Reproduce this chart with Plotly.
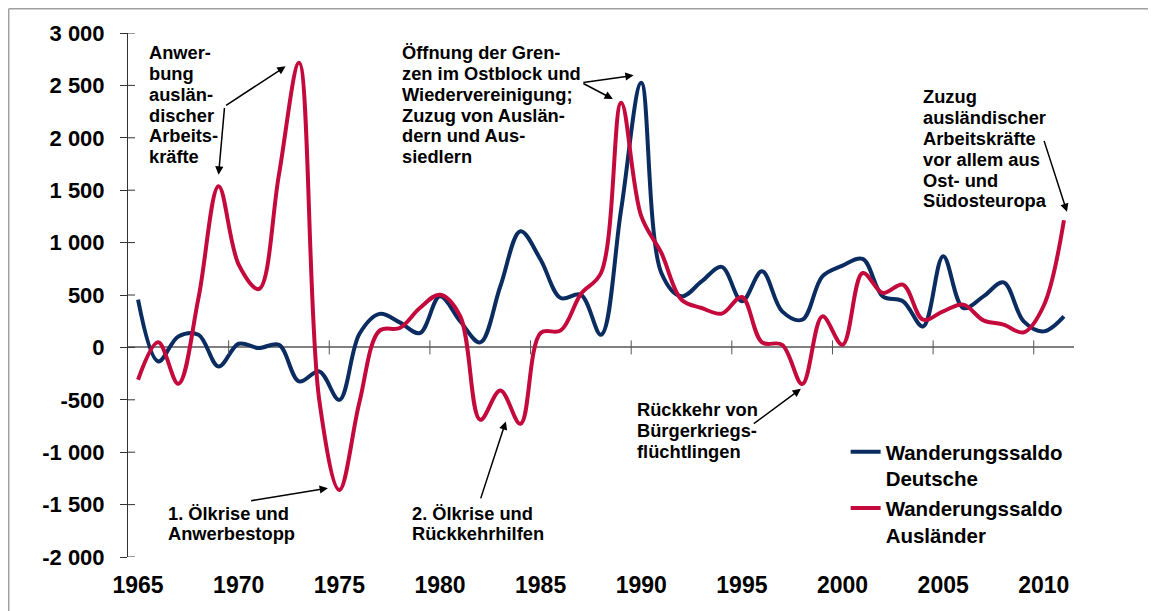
import plotly.graph_objects as go

# ---------------- data ----------------
years = list(range(1965, 2012))
saldo_deutsche = [455, -134, 105, 121, -182, 35, -6, 25, -325, -229,
                  -501, 130, 320, 239, 137, 487, 250, 48, 583, 1108,
                  837, 471, 503, 121, 1315, 2526, 710, 487, 630, 768,
                  440, 726, 344, 264, 678, 780, 844, 487, 440, 200,
                  870, 376, 487, 621, 248, 153, 296]
saldo_auslaender = [-309, 48, -347, 470, 1538, 790, 557, 1650, 2717, -500,
                    -1360, -520, 160, 185, 376, 503, 300, -691, -411, -729,
                    137, 162, 510, 710, 2335, 1252, 901, 455, 376, 322,
                    481, 48, 25, -350, 296, 25, 710, 519, 599, 264,
                    344, 408, 258, 217, 143, 400, 1213]
x_tick_years = [1965, 1970, 1975, 1980, 1985, 1990, 1995, 2000, 2005, 2010]
y_tick_vals = [-2000, -1500, -1000, -500, 0, 500, 1000, 1500, 2000, 2500, 3000]
y_tick_text = ["-2 000", "-1 500", "-1 000", "-500", "0", "500",
               "1 000", "1 500", "2 000", "2 500", "3 000"]
name_deutsche = "Wanderungssaldo<br>Deutsche"
name_auslaender = "Wanderungssaldo<br>Ausländer"

BLUE = "#0B2C61"
RED = "#C40A3C"
FONT = "Liberation Sans, Arial, sans-serif"

# figure sits inside the page body (8px default margin)
FIG_W, FIG_H = 1148, 603
M_L, M_R, M_T, M_B = 120.3, 81.6, 25.3, 54.3
PLOT_W = FIG_W - M_L - M_R
PLOT_H = FIG_H - M_T - M_B

fig = go.Figure()
fig.add_trace(go.Scatter(x=years, y=saldo_deutsche, mode="lines", name=name_deutsche,
                         line=dict(color=BLUE, width=4, shape="spline", smoothing=1.0)))
fig.add_trace(go.Scatter(x=years, y=saldo_auslaender, mode="lines", name=name_auslaender,
                         line=dict(color=RED, width=4, shape="spline", smoothing=1.0)))

shapes = []
# x tick marks crossing the zero line, between categories
for yr in x_tick_years[1:]:
    shapes.append(dict(type="line", xref="x", yref="y", x0=yr - 0.5, x1=yr - 0.5,
                       y0=-67, y1=67, line=dict(color="#555555", width=1)))
# inner half of the y ticks
for v in y_tick_vals:
    shapes.append(dict(type="line", xref="paper", yref="y", x0=0, x1=7 / PLOT_W,
                       y0=v, y1=v, line=dict(color="#333333", width=1)))
# outer frame (top and left)
fx0 = (1 - M_L) / PLOT_W
fy0 = 1 + (M_T - 1) / PLOT_H
shapes.append(dict(type="line", xref="paper", yref="paper", x0=fx0, x1=1.2,
                   y0=fy0, y1=fy0, line=dict(color="#A0A0A0", width=1.5)))
shapes.append(dict(type="line", xref="paper", yref="paper", x0=fx0, x1=fx0,
                   y0=fy0, y1=-0.2, line=dict(color="#A0A0A0", width=1.5)))

annotations = []
PX = 0.10467  # px per value unit


def add_text(lines, x_left, y_first, spacing_px=20.8):
    for i, t in enumerate(lines):
        annotations.append(dict(x=x_left, y=y_first - i * spacing_px / PX, xref="x", yref="y",
                                text=t, showarrow=False, xanchor="left", yanchor="middle",
                                font=dict(family=FONT, size=18.3, color="black", weight="bold")))


def add_arrow(tail, head):
    annotations.append(dict(x=head[0], y=head[1], ax=tail[0], ay=tail[1],
                            xref="x", yref="y", axref="x", ayref="y", text="",
                            showarrow=True, arrowhead=2, arrowsize=1.1, arrowwidth=1.5,
                            arrowcolor="black"))


add_text(["Anwer-", "bung", "auslän-", "discher", "Arbeits-", "kräfte"], 1965.43, 2813)
add_arrow((1969.3, 2300), (1972.33, 2682))
add_arrow((1969.3, 2300), (1969.0, 1648))

add_text(["1. Ölkrise und", "Anwerbestopp"], 1966.37, -1582, 20.5)
add_arrow((1970.54, -1465), (1974.43, -1343))

add_text(["2. Ölkrise und", "Rückkehrhilfen"], 1978.49, -1582, 20.5)
add_arrow((1982.0, -1455), (1983.27, -707))

add_text(["Rückkehr von", "Bürgerkriegs-", "flüchtlingen"], 1989.67, -588, 21.2)
add_arrow((1995.52, -738), (1997.93, -395))

add_text(["Öffnung der Gren-", "zen im Ostblock und", "Wiedervereinigung;",
          "Zuzug von Auslän-", "dern und Aus-", "siedlern"], 1978.03, 2813)
add_arrow((1987.05, 2526), (1989.62, 2596))
add_arrow((1987.05, 2526), (1988.59, 2370))

add_text(["Zuzug", "ausländischer", "Arbeitskräfte", "vor allem aus",
          "Ost- und", "Südosteuropa"], 2003.88, 2392)
add_arrow((2009.99, 1985), (2011.15, 1294))

fig.update_layout(
    width=FIG_W, height=FIG_H,
    margin=dict(l=M_L, r=M_R, t=M_T, b=M_B, pad=0),
    paper_bgcolor="white", plot_bgcolor="white",
    font=dict(family=FONT, color="black", weight="bold"),
    showlegend=True,
    legend=dict(x=0.7586, y=0.2388, xanchor="left", yanchor="top",
                bgcolor="rgba(0,0,0,0)", valign="top",
                font=dict(family=FONT, size=20.5, color="black", weight="bold"),
                tracegroupgap=0, itemwidth=30),
    shapes=shapes,
    annotations=annotations,
    xaxis=dict(range=[1964.5, 2011.5], tickmode="array", tickvals=x_tick_years,
               ticktext=[str(y) for y in x_tick_years], ticks="", showline=False,
               showgrid=False, zeroline=False, ticklabelstandoff=12,
               tickfont=dict(family=FONT, size=23, color="black", weight="bold")),
    yaxis=dict(range=[-2000, 3000], tickmode="array", tickvals=y_tick_vals,
               ticktext=y_tick_text, ticks="outside", ticklen=7, tickcolor="#333333",
               showline=True, linecolor="#333333", linewidth=1, showgrid=False,
               zeroline=True, zerolinecolor="#808080", zerolinewidth=1.5,
               ticklabelstandoff=11,
               tickfont=dict(family=FONT, size=22, color="black", weight="bold")),
)

fig.write_html("out.html")
